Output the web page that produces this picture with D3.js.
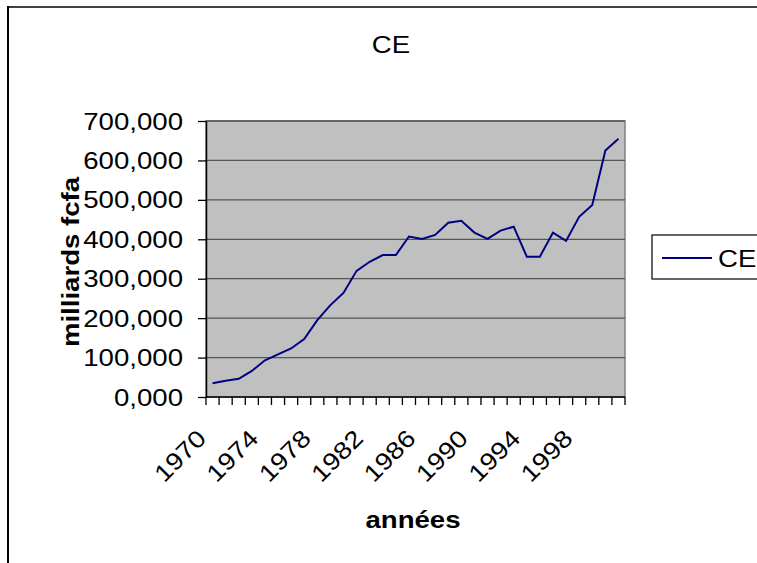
<!DOCTYPE html>
<html>
<head>
<meta charset="utf-8">
<script src="https://cdn.jsdelivr.net/npm/d3@7"></script>
<style>
  body { margin: 0; background: #fff; }
  svg { display: block; font-family: "Liberation Sans", Arial, sans-serif; }
</style>
</head>
<body>
<svg width="757" height="563"></svg>
<script>
// data (milliards fcfa)
var years = d3.range(1970, 2002);
var ceValues = [35, 41, 46, 66, 93, 108, 123, 147, 195, 233, 264, 320, 343, 360, 360, 407,
                401, 411, 442, 447, 417, 401, 422, 432, 356, 356, 417, 396, 457, 487, 625, 655];
var yTicks = [0, 100, 200, 300, 400, 500, 600, 700];
var xLabelYears = [1970, 1974, 1978, 1982, 1986, 1990, 1994, 1998];

var svg = d3.select("svg");
var stretch = 1.15;   // the original fonts are drawn wider

var plotL = 206, plotR = 625, plotT = 121, plotB = 397;

var x = d3.scaleBand().domain(years).range([plotL, plotR]).padding(0);
var y = d3.scaleLinear().domain([0, 700]).range([plotB, plotT]);

function fmt(v) {
    return d3.format(".3f")(v).replace(".", ",");
}

// text helper : place, rotate, stretch along the baseline
function label(px, py, rot, txt, size, weight, anchor, dy) {
    var g = svg.append("g")
        .attr("transform", "translate(" + px + "," + py + ") rotate(" + rot + ") scale(" + stretch + ",1)");
    g.append("text")
        .attr("text-anchor", anchor)
        .attr("dy", dy || 0)
        .attr("font-size", size)
        .attr("font-weight", weight)
        .attr("fill", "#000")
        .text(txt);
    return g;
}

// chart frame
svg.append("line").attr("x1", 8).attr("y1", 7).attr("x2", 757).attr("y2", 7)
    .attr("stroke", "#404040").attr("stroke-width", 2);
svg.append("line").attr("x1", 8).attr("y1", 6).attr("x2", 8).attr("y2", 563)
    .attr("stroke", "#000").attr("stroke-width", 2);

// plot area
svg.append("rect").attr("x", plotL).attr("y", plotT)
    .attr("width", plotR - plotL).attr("height", plotB - plotT)
    .attr("fill", "#c0c0c0").attr("stroke", "#808080").attr("stroke-width", 1.5);

// gridlines
svg.append("g").selectAll("line").data(yTicks.slice(1)).enter().append("line")
    .attr("x1", plotL).attr("x2", plotR)
    .attr("y1", function(d) { return y(d); }).attr("y2", function(d) { return y(d); })
    .attr("stroke", "#555").attr("stroke-width", 1.3);

// y axis
var yAxis = d3.axisLeft(y).tickValues(yTicks).tickSize(8).tickSizeOuter(0).tickFormat("");
svg.append("g").attr("transform", "translate(" + plotL + ",0)").call(yAxis)
    .call(function(g) {
        g.selectAll("line").attr("stroke", "#000").attr("stroke-width", 1.3);
        g.select(".domain").attr("stroke", "#000").attr("stroke-width", 1.5);
    });
yTicks.forEach(function(v) {
    label(183, y(v), 0, fmt(v), 24, "normal", "end", "0.36em");
});

// x axis: ticks between categories
var xEdges = years.map(function(d) { return x(d); }).concat([plotR]);
svg.append("line").attr("x1", plotL).attr("x2", plotR).attr("y1", plotB).attr("y2", plotB)
    .attr("stroke", "#000").attr("stroke-width", 1.5);
svg.append("g").selectAll("line").data(xEdges).enter().append("line")
    .attr("x1", function(d) { return d; }).attr("x2", function(d) { return d; })
    .attr("y1", plotB).attr("y2", plotB + 8)
    .attr("stroke", "#000").attr("stroke-width", 1.3);
xLabelYears.forEach(function(yr) {
    label(x(yr) + x.bandwidth() / 2 - 5, 440, -45, yr, 24, "normal", "end", 0);
});

// series line
var line = d3.line()
    .x(function(d, i) { return x(years[i]) + x.bandwidth() / 2; })
    .y(function(d) { return y(d); });
svg.append("path").datum(ceValues).attr("d", line)
    .attr("fill", "none").attr("stroke", "#000080").attr("stroke-width", 2);

// titles
label(391, 53, 0, "CE", 24, "normal", "middle");
label(413, 528, 0, "années", 24, "bold", "middle");
label(79, 262, -90, "milliards fcfa", 24, "bold", "middle");

// legend
svg.append("rect").attr("x", 652).attr("y", 235).attr("width", 120).attr("height", 44)
    .attr("fill", "#fff").attr("stroke", "#000").attr("stroke-width", 1.2);
svg.append("line").attr("x1", 662).attr("x2", 712).attr("y1", 258).attr("y2", 258)
    .attr("stroke", "#000080").attr("stroke-width", 2);
label(718, 258, 0, "CE", 24, "normal", "start", "0.36em");
</script>
</body>
</html>
